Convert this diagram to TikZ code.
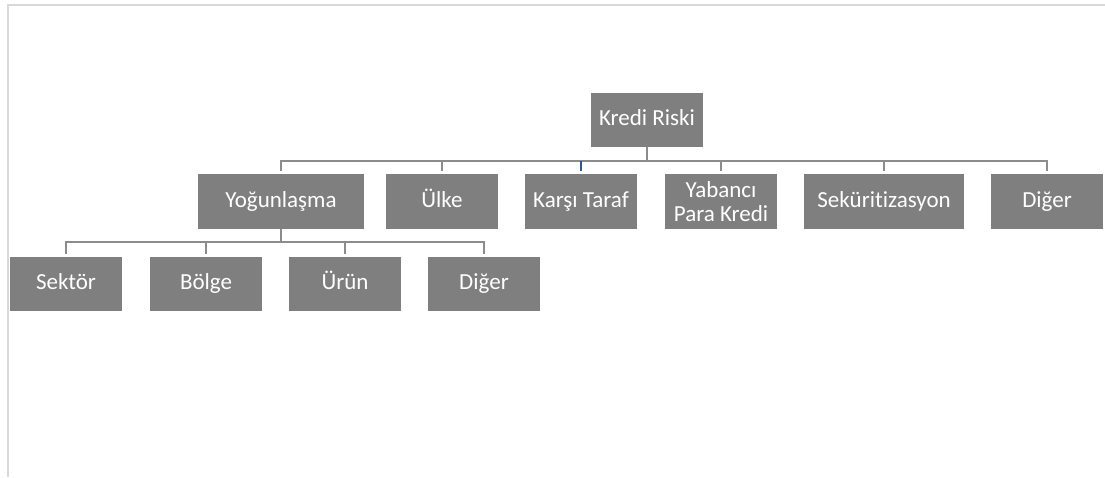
\documentclass[tikz,border=0pt]{standalone}
\usepackage{fontspec}
\setmainfont{Carlito}[Ligatures=NoCommon]
\definecolor{boxgray}{RGB}{127,127,127}
\definecolor{linegray}{RGB}{140,140,140}
\definecolor{framegray}{RGB}{217,217,217}
\definecolor{stubblue}{RGB}{47,85,151}
\begin{document}
\begin{tikzpicture}[x=1pt,y=1pt,
    box/.style={draw=none,fill=boxgray,text=white,minimum width=112pt,minimum height=54pt,
      inner sep=1pt,align=center,text height=15pt,text depth=4pt,
      font=\fontsize{23}{24}\selectfont},
    conn/.style={draw=linegray,line width=2.5pt,shorten >=3pt}]
  \useasboundingbox (0,0) rectangle (1105,-477);
  \draw[framegray,line width=1.5pt] (1105,-5) -- (8,-5) -- (8,-477);

  \node (kredi) [box] at (647,-120) {Kredi Riski};

  \node (yog) [box,minimum width=166pt,minimum height=55pt] at (281,-201.5) {Yoğunlaşma};
  \node (ulke) [box,minimum height=55pt] at (442,-201.5) {Ülke};
  \node (karsi) [box,minimum height=55pt] at (581,-201.5) {Karşı Taraf};
  \node (yabanci) [box,minimum height=55pt,text height=,text depth=] at (721,-201.5) {Yabancı\\Para Kredi};
  \node (sekur) [box,minimum width=160pt,minimum height=55pt] at (884,-201.5) {Seküritizasyon};
  \node (diger) [box,minimum height=55pt] at (1047,-201.5) {Diğer};

  \node (sektor) [box] at (66,-284) {Sektör};
  \node (bolge) [box] at (206,-284) {Bölge};
  \node (urun) [box] at (345,-284) {Ürün};
  \node (digerb) [box] at (484,-284) {Diğer};

  \draw[conn] (kredi.south) -- ++(0,-14) -| (yog.north);
  \draw[conn] (kredi.south) -- ++(0,-14) -| (ulke.north);
  \draw[conn] (kredi.south) -- ++(0,-14) -| (yabanci.north);
  \draw[conn] (kredi.south) -- ++(0,-14) -| (sekur.north);
  \draw[conn] (kredi.south) -- ++(0,-14) -| (diger.north);
  \draw[conn] (kredi.south) -- ++(0,-14) -| (karsi.north);
  \draw[conn,draw=stubblue] (karsi.north) ++(0,13) -- (karsi.north);

  \draw[conn] (yog.south) -- ++(0,-13) -| (sektor.north);
  \draw[conn] (yog.south) -- ++(0,-13) -| (bolge.north);
  \draw[conn] (yog.south) -- ++(0,-13) -| (urun.north);
  \draw[conn] (yog.south) -- ++(0,-13) -| (digerb.north);
\end{tikzpicture}
\end{document}
